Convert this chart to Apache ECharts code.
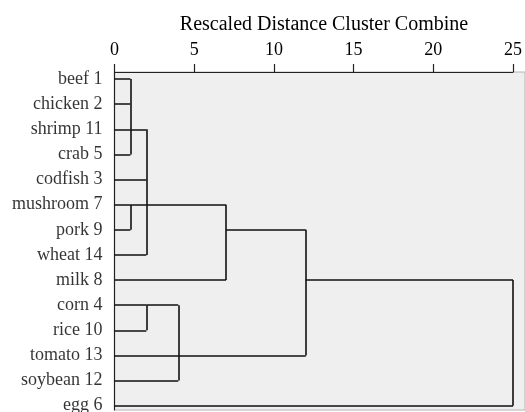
<!DOCTYPE html>
<html>
<head>
<meta charset="utf-8">
<script src="https://cdn.jsdelivr.net/npm/echarts@6/dist/echarts.min.js"></script>
<style>
  html, body { margin: 0; padding: 0; background: #fff; }
  #chart { width: 525px; height: 412px; }
</style>
</head>
<body>
<div id="chart"></div>
<script>
// leaves, top to bottom
const labels = ['beef 1', 'chicken 2', 'shrimp 11', 'crab 5', 'codfish 3', 'mushroom 7', 'pork 9',
  'wheat 14', 'milk 8', 'corn 4', 'rice 10', 'tomato 13', 'soybean 12', 'egg 6'];
// merges: node ids 0..13 are leaves, merge k gets id 14 + k
const mergeChildren = [[0, 1, 2, 3], [5, 6], [14, 4, 15, 7], [16, 8], [9, 10], [18, 11, 12], [17, 19], [20, 13]];
const mergeHeights = [1, 1, 2, 7, 2, 4, 12, 25];
const mergeRows = [2, 5, 5, 6, 9, 11, 8, 13];
const xTicks = [0, 5, 10, 15, 20, 25];

const serif = '"Liberation Serif", "Times New Roman", serif';

const nodeH = labels.map(() => 0);
const nodeRow = labels.map((l, i) => i);
const segs = [];
mergeChildren.forEach((kids, k) => {
  const h = mergeHeights[k];
  const rows = kids.map(c => nodeRow[c]);
  kids.forEach(c => segs.push({coords: [[nodeH[c], nodeRow[c]], [h, nodeRow[c]]]}));
  segs.push({coords: [[h, Math.min(...rows)], [h, Math.max(...rows)]]});
  nodeH.push(h);
  nodeRow.push(mergeRows[k]);
});

const chart = echarts.init(document.getElementById('chart'));
chart.setOption({
  animation: false,
  title: {
    text: 'Rescaled Distance Cluster Combine',
    left: 319, top: 10, textAlign: 'center',
    textStyle: {fontFamily: serif, fontSize: 20, fontWeight: 'normal', color: '#000'}
  },
  grid: [
    {left: 114.5, right: 10.7, top: 72, bottom: 2, show: false},
    {left: 114.5, right: -5, top: 72, bottom: 2, show: true, backgroundColor: '#efefef',
      borderColor: '#b4b4b4', borderWidth: 1, z: 0}
  ],
  xAxis: [
    {
      type: 'value', gridIndex: 0, position: 'top', min: 0, max: 25, interval: 5,
      axisLine: {show: true, onZero: false, lineStyle: {color: '#222', width: 1.2}},
      axisTick: {show: true, length: 8, lineStyle: {color: '#222', width: 1.2}},
      axisLabel: {
        fontFamily: serif, fontSize: 18, color: '#000', margin: 13,
        formatter: v => xTicks.includes(v) ? String(v) : ''
      },
      splitLine: {show: false}
    },
    {type: 'value', gridIndex: 1, show: false}
  ],
  yAxis: [
    {
      type: 'value', gridIndex: 0, inverse: true, min: -0.28, max: 13.17,
      axisLine: {show: true, onZero: false, lineStyle: {color: '#222', width: 1.2}},
      axisTick: {show: false}, axisLabel: {show: false}, splitLine: {show: false}
    },
    {type: 'value', gridIndex: 1, show: false}
  ],
  series: [
    {
      type: 'lines', coordinateSystem: 'cartesian2d', xAxisIndex: 0, yAxisIndex: 0,
      data: segs, z: 3,
      lineStyle: {color: '#111', width: 1.6, opacity: 1}
    },
    {
      type: 'scatter', xAxisIndex: 0, yAxisIndex: 0, symbolSize: 0, silent: true,
      data: labels.map((l, i) => [0, i]),
      label: {
        show: true, position: 'left', distance: 12,
        fontFamily: serif, fontSize: 18, color: '#000',
        formatter: p => labels[p.dataIndex]
      }
    }
  ]
});
</script>
</body>
</html>
